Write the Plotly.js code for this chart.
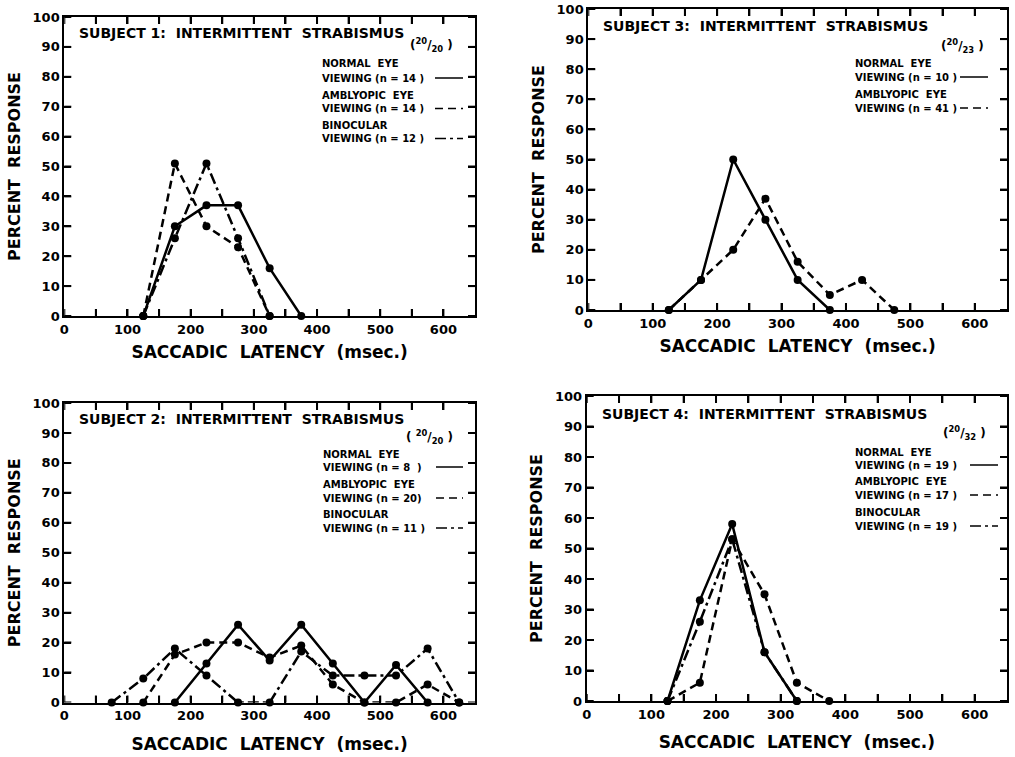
<!DOCTYPE html>
<html>
<head>
<meta charset="utf-8">
<script src="https://cdn.plot.ly/plotly-3.0.1.min.js"></script>
<style>html,body{margin:0;padding:0;background:#fff;}#chart{width:1015px;height:757px;}</style>
</head>
<body>
<div id="chart"></div>
<script>
// ---------- DATA ----------
// Subject 1 (top-left)
const s1NormalX = [125, 175, 225, 275, 325, 375];
const s1NormalY = [0, 30, 37, 37, 16, 0];
const s1AmblyX  = [125, 175, 225, 275, 325];
const s1AmblyY  = [0, 51, 30, 23, 0];
const s1BinoX   = [125, 175, 225, 275, 325];
const s1BinoY   = [0, 26, 51, 26, 0];
// Subject 3 (top-right)
const s3NormalX = [125, 175, 225, 275, 325, 375];
const s3NormalY = [0, 10, 50, 30, 10, 0];
const s3AmblyX  = [125, 175, 225, 275, 325, 375, 425, 475];
const s3AmblyY  = [0, 10, 20, 37, 16, 5, 10, 0];
// Subject 2 (bottom-left)
const s2NormalX = [175, 225, 275, 325, 375, 425, 475, 525, 575];
const s2NormalY = [0, 13, 26, 14, 26, 13, 0, 12.5, 0];
const s2AmblyX  = [125, 175, 225, 275, 325, 375, 425, 475, 525, 575, 625];
const s2AmblyY  = [0, 16, 20, 20, 15, 19, 6, 0, 0, 6, 0];
const s2BinoX   = [75, 125, 175, 225, 275, 325, 375, 425, 475, 525, 575, 625];
const s2BinoY   = [0, 8, 18, 9, 0, 0, 17, 9, 9, 9, 18, 0];
// Subject 4 (bottom-right)
const s4NormalX = [125, 175, 225, 275, 325];
const s4NormalY = [0, 33, 58, 16, 0];
const s4AmblyX  = [125, 175, 225, 275, 325, 375];
const s4AmblyY  = [0, 6, 53, 35, 6, 0];
const s4BinoX   = [125, 175, 225, 275, 325];
const s4BinoY   = [0, 26, 53, 16, 0];

// tick values / labels (x ticks every 50 ms, labels every 100 ms)
const xTickVals = [0, 50, 100, 150, 200, 250, 300, 350, 400, 450, 500, 550, 600];
const xTickText = ['0', '', '100', '', '200', '', '300', '', '400', '', '500', '', '600'];
const yTickVals = [0, 10, 20, 30, 40, 50, 60, 70, 80, 90, 100];

const xTitle = 'SACCADIC  LATENCY  (msec.)';
const yTitle = 'PERCENT  RESPONSE';
const panelTitles = ['SUBJECT 1:  INTERMITTENT  STRABISMUS', 'SUBJECT 3:  INTERMITTENT  STRABISMUS',
                     'SUBJECT 2:  INTERMITTENT  STRABISMUS', 'SUBJECT 4:  INTERMITTENT  STRABISMUS'];
const acuity = ['(<sup>20</sup>/<sub>20</sub> )', '(<sup>20</sup>/<sub>23</sub> )',
                '( <sup>20</sup>/<sub>20</sub> )', '(<sup>20</sup>/<sub>32</sub> )'];
const legendTexts = [
  ['NORMAL  EYE', 'VIEWING (n = 14 )', 'AMBLYOPIC  EYE', 'VIEWING (n = 14 )', 'BINOCULAR', 'VIEWING (n = 12 )'],
  ['NORMAL  EYE', 'VIEWING (n = 10 )', 'AMBLYOPIC  EYE', 'VIEWING (n = 41 )'],
  ['NORMAL  EYE', 'VIEWING (n = 8  )', 'AMBLYOPIC  EYE', 'VIEWING (n = 20)', 'BINOCULAR', 'VIEWING (n = 11 )'],
  ['NORMAL  EYE', 'VIEWING (n = 19 )', 'AMBLYOPIC  EYE', 'VIEWING (n = 17 )', 'BINOCULAR', 'VIEWING (n = 19 )']
];

// ---------- STYLE ----------
const W = 1015, H = 757;
const FONT = 'DejaVu Sans';
const px = v => v / W;
const py = v => 1 - v / H;
const DASH = '8px,5px';
const DASHDOT = '11px,4px,3px,4px';
const TICKLEN = 7;

function tr(x, y, dash, ax) {
  return {
    x: x, y: y, type: 'scatter', mode: 'lines+markers', xaxis: 'x' + ax, yaxis: 'y' + ax,
    line: {color: 'black', width: 2.5, dash: dash},
    marker: {color: 'black', size: 8, symbol: 'circle'},
    cliponaxis: false
  };
}

const data = [
  tr(s1NormalX, s1NormalY, 'solid', ''), tr(s1AmblyX, s1AmblyY, DASH, ''), tr(s1BinoX, s1BinoY, DASHDOT, ''),
  tr(s3NormalX, s3NormalY, 'solid', '2'), tr(s3AmblyX, s3AmblyY, DASH, '2'),
  tr(s2NormalX, s2NormalY, 'solid', '3'), tr(s2AmblyX, s2AmblyY, DASH, '3'), tr(s2BinoX, s2BinoY, DASHDOT, '3'),
  tr(s4NormalX, s4NormalY, 'solid', '4'), tr(s4AmblyX, s4AmblyY, DASH, '4'), tr(s4BinoX, s4BinoY, DASHDOT, '4')
];

// panel boxes in pixels: [left, right, top, bottom, xTitleStandoff]
const boxes = [[64.3, 475, 17, 316, 11], [588.3, 1007, 9, 310, 11], [64.3, 475, 403, 702.5, 16], [586.7, 1007, 396, 701, 16]];
const axSuffix = ['', '2', '3', '4'];

function xax(b, anchor) {
  return {
    domain: [px(b[0]), px(b[1])], anchor: anchor, range: [0, 650],
    tickmode: 'array', tickvals: xTickVals, ticktext: xTickText,
    ticks: 'inside', ticklen: TICKLEN, tickwidth: 2, tickcolor: 'black',
    showline: true, linewidth: 2, linecolor: 'black', mirror: 'ticks',
    showgrid: false, zeroline: false,
    tickfont: {family: FONT, size: 13, color: 'black', weight: 'bold'},
    title: {text: xTitle, standoff: b[4], font: {family: FONT, size: 17, color: 'black', weight: 'bold'}}
  };
}
function yax(b, anchor) {
  return {
    domain: [py(b[3]), py(b[2])], anchor: anchor, range: [0, 100],
    tickmode: 'array', tickvals: yTickVals,
    ticks: 'inside', ticklen: TICKLEN, tickwidth: 2, tickcolor: 'black',
    showline: true, linewidth: 2, linecolor: 'black', mirror: 'ticks',
    showgrid: false, zeroline: false,
    tickfont: {family: FONT, size: 13, color: 'black', weight: 'bold'},
    title: {text: yTitle, standoff: 8, font: {family: FONT, size: 16, color: 'black', weight: 'bold'}}
  };
}

// in-panel text placement (pixels)
const panelText = [
  {tx: 77, ty: 33, ax: 455, ay: 45, lx: 320, ly: [64, 78, 95, 108.5, 125, 138.5], l0: 435, l1: 463},
  {tx: 601, ty: 26, ax: 986, ay: 46, lx: 853, ly: [63, 77, 94, 108], l0: 960, l1: 988},
  {tx: 77, ty: 419, ax: 455, ay: 437, lx: 321, ly: [454, 467, 484, 498, 514, 528], l0: 436, l1: 463},
  {tx: 600, ty: 414, ax: 988, ay: 433, lx: 853, ly: [452, 465, 482, 495, 512, 526], l0: 970, l1: 998}
];

const annotations = [];
const shapes = [];
const dashes = ['solid', DASH, DASHDOT];
panelText.forEach((p, i) => {
  annotations.push({xref: 'paper', yref: 'paper', x: px(p.tx), y: py(p.ty), xanchor: 'left', yanchor: 'middle',
    text: panelTitles[i], showarrow: false, font: {family: FONT, size: 14, color: 'black', weight: 'bold'}});
  annotations.push({xref: 'paper', yref: 'paper', x: px(p.ax), y: py(p.ay), xanchor: 'right', yanchor: 'middle',
    text: acuity[i], showarrow: false, font: {family: FONT, size: 12, color: 'black', weight: 'bold'}});
  legendTexts[i].forEach((t, k) => {
    annotations.push({xref: 'paper', yref: 'paper', x: px(p.lx), y: py(p.ly[k]), xanchor: 'left', yanchor: 'middle',
      text: t, showarrow: false, font: {family: FONT, size: 10, color: 'black', weight: 'bold'}});
    if (k % 2 === 1) {
      shapes.push({type: 'line', xref: 'paper', yref: 'paper', x0: px(p.l0), x1: px(p.l1),
        y0: py(p.ly[k]), y1: py(p.ly[k]), line: {color: 'black', width: 1.5, dash: dashes[(k - 1) / 2]}});
    }
  });
});

// inward tick marks on all four sides, positioned by the axes' own scales from the tick arrays
axSuffix.forEach(s => {
  const xr = 'x' + s, yr = 'y' + s;
  xTickVals.forEach(v => {
    [0, 1].forEach(side => {
      shapes.push({type: 'line', xref: xr, yref: yr + ' domain', ysizemode: 'pixel', yanchor: side,
        x0: v, x1: v, y0: 0, y1: side === 0 ? TICKLEN : -TICKLEN, line: {color: 'black', width: 2}});
    });
  });
  yTickVals.forEach(v => {
    [0, 1].forEach(side => {
      shapes.push({type: 'line', xref: xr + ' domain', yref: yr, xsizemode: 'pixel', xanchor: side,
        y0: v, y1: v, x0: 0, x1: side === 0 ? TICKLEN : -TICKLEN, line: {color: 'black', width: 2}});
    });
  });
});

const layout = {
  width: W, height: H, margin: {l: 0, r: 0, t: 0, b: 0},
  showlegend: false,
  xaxis: xax(boxes[0], 'y'), yaxis: yax(boxes[0], 'x'),
  xaxis2: xax(boxes[1], 'y2'), yaxis2: yax(boxes[1], 'x2'),
  xaxis3: xax(boxes[2], 'y3'), yaxis3: yax(boxes[2], 'x3'),
  xaxis4: xax(boxes[3], 'y4'), yaxis4: yax(boxes[3], 'x4'),
  annotations: annotations, shapes: shapes
};

Plotly.newPlot('chart', data, layout, {displayModeBar: false});
</script>
</body>
</html>
